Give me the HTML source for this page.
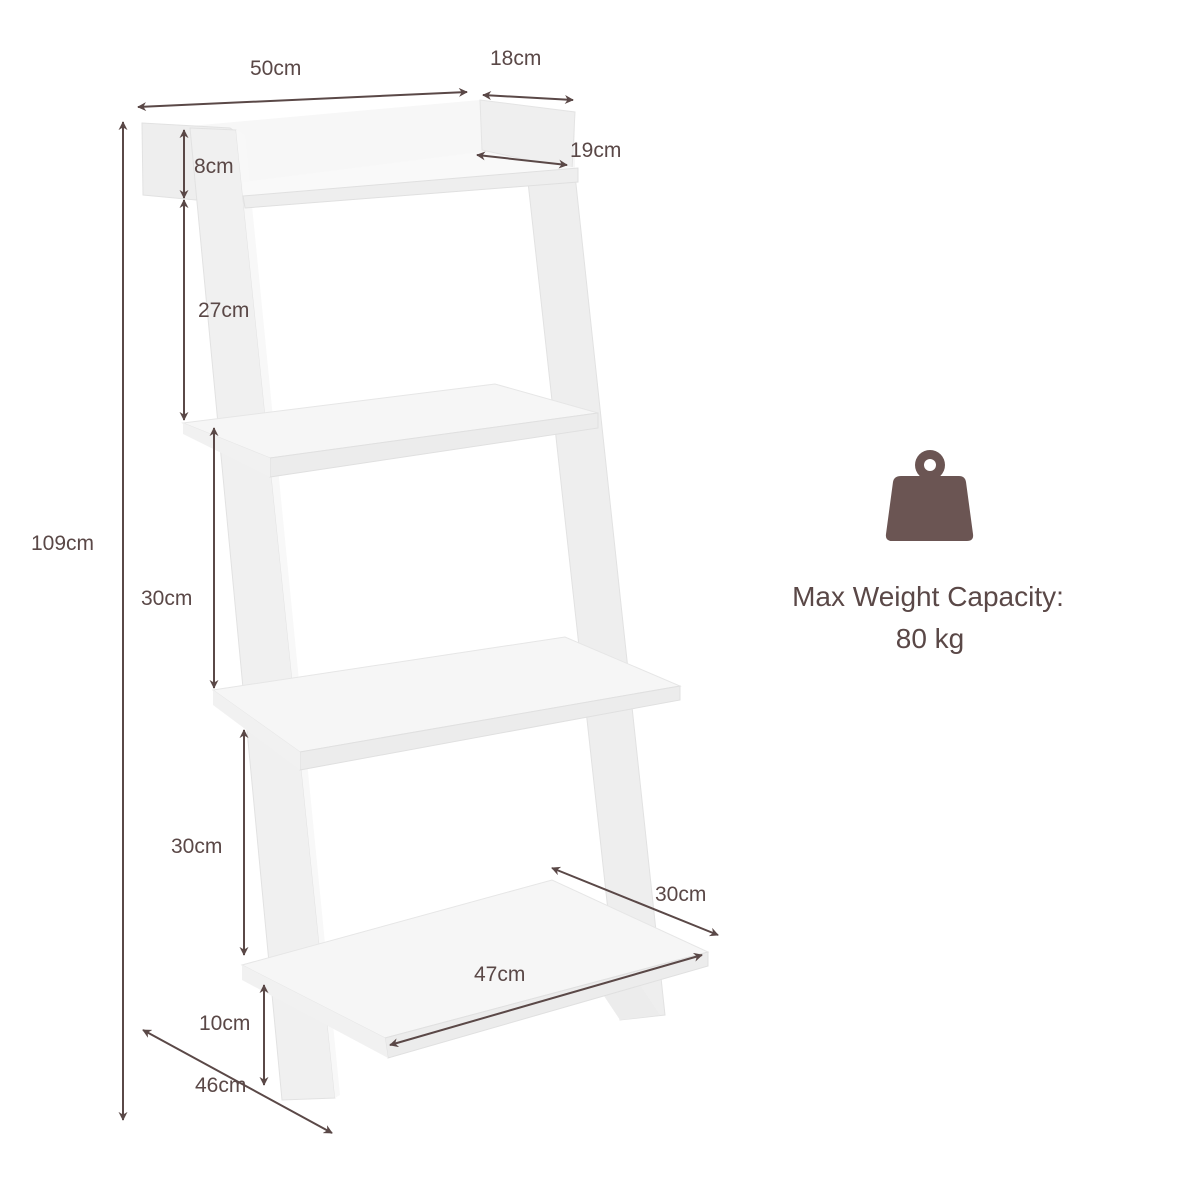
<!DOCTYPE html>
<html><head><meta charset="utf-8"><style>
html,body{margin:0;padding:0;background:#fff;}
svg{display:block;}
text{font-family:"Liberation Sans",sans-serif;fill:#5a4847;}
</style></head><body>
<svg width="1200" height="1200" viewBox="0 0 1200 1200" xmlns="http://www.w3.org/2000/svg">
<defs>
<marker id="a" viewBox="0 0 10 10" refX="9" refY="5" markerWidth="9" markerHeight="9" orient="auto-start-reverse" markerUnits="userSpaceOnUse">
<path d="M0,0 L10,5 L0,10 L3,5 z" fill="#5a4847"/></marker>
</defs>
<rect width="1200" height="1200" fill="#fff"/>
<!-- top box back panel -->
<polygon points="190,126 480,100 575,112 575,170 245,195" fill="#f7f7f7"/>
<polygon points="480,100 575,112 572,170 482,150" fill="#efefef" stroke="#e4e4e4" stroke-width="1"/>
<!-- left end block -->
<polygon points="142,123 230,128 236,132 196,200 143,195" fill="#eeeeee" stroke="#e2e2e2" stroke-width="1"/>
<!-- right leg -->
<polygon points="528,182 575,175 665,1015 620,1020" fill="#eeeeee" stroke="#e2e2e2" stroke-width="1"/>
<!-- foot -->
<polygon points="600,990 640,985 660,1015 620,1020" fill="#ececec"/>
<!-- left leg -->
<polygon points="190,128 236,130 335,1098 282,1100" fill="#f0f0f0" stroke="#e2e2e2" stroke-width="1"/>
<polygon points="236,130 245,135 340,1095 335,1098" fill="#f8f8f8"/>
<!-- shelf 1 -->
<polygon points="243,182 480,152 578,168 243,196" fill="#f9f9f9"/>
<polygon points="243,196 578,168 578,182 245,208" fill="#eeeeee" stroke="#e0e0e0" stroke-width="1"/>
<!-- shelf 2 -->
<polygon points="183,423 495,384 598,413 270,458" fill="#f6f6f6" stroke="#e6e6e6" stroke-width="1"/>
<polygon points="270,458 598,413 598,428 270,477" fill="#ececec" stroke="#e0e0e0" stroke-width="1"/>
<polygon points="183,423 270,458 270,477 183,434" fill="#f1f1f1"/>
<!-- shelf 3 -->
<polygon points="213,690 565,637 680,686 300,752" fill="#f6f6f6" stroke="#e6e6e6" stroke-width="1"/>
<polygon points="300,752 680,686 680,700 300,770" fill="#ececec" stroke="#e0e0e0" stroke-width="1"/>
<polygon points="213,690 300,752 300,770 213,705" fill="#f1f1f1"/>
<!-- shelf 4 -->
<polygon points="242,965 552,880 708,952 385,1038" fill="#f6f6f6" stroke="#e6e6e6" stroke-width="1"/>
<polygon points="385,1038 708,952 708,966 388,1058" fill="#ececec" stroke="#e0e0e0" stroke-width="1"/>
<polygon points="242,965 385,1038 388,1058 242,980" fill="#f1f1f1"/>
<!-- dimension lines -->
<g stroke="#5a4847" stroke-width="2" fill="none" marker-start="url(#a)" marker-end="url(#a)">
<line x1="138" y1="107" x2="467" y2="92"/>
<line x1="483" y1="95" x2="573" y2="100"/>
<line x1="477" y1="155" x2="567" y2="165"/>
<line x1="184" y1="130" x2="184" y2="198"/>
<line x1="184" y1="200" x2="184" y2="420"/>
<line x1="214" y1="428" x2="214" y2="688"/>
<line x1="244" y1="730" x2="244" y2="955"/>
<line x1="264" y1="985" x2="264" y2="1085"/>
<line x1="123" y1="122" x2="123" y2="1120"/>
<line x1="143" y1="1030" x2="332" y2="1133"/>
<line x1="552" y1="868" x2="718" y2="935"/>
<line x1="390" y1="1045" x2="702" y2="955"/>
</g>
<g font-size="21">
<text x="250" y="75">50cm</text>
<text x="490" y="65">18cm</text>
<text x="570" y="157">19cm</text>
<text x="194" y="173">8cm</text>
<text x="198" y="317">27cm</text>
<text x="141" y="605">30cm</text>
<text x="171" y="853">30cm</text>
<text x="655" y="901">30cm</text>
<text x="474" y="981">47cm</text>
<text x="199" y="1030">10cm</text>
<text x="195" y="1092">46cm</text>
<text x="31" y="550">109cm</text>
</g>
<!-- weight icon -->
<circle cx="930" cy="465" r="15" fill="#6b5553"/>
<circle cx="930" cy="465" r="6" fill="#fff"/>
<path d="M901,476 L959,476 Q965,476 966,482 L973,534 Q974,541 967,541 L892,541 Q885,541 886,534 L893,482 Q894,476 901,476 z" fill="#6b5553"/>
<text x="928" y="606" font-size="28" text-anchor="middle">Max Weight Capacity:</text>
<text x="930" y="648" font-size="28" text-anchor="middle">80 kg</text>
</svg>
</body></html>
